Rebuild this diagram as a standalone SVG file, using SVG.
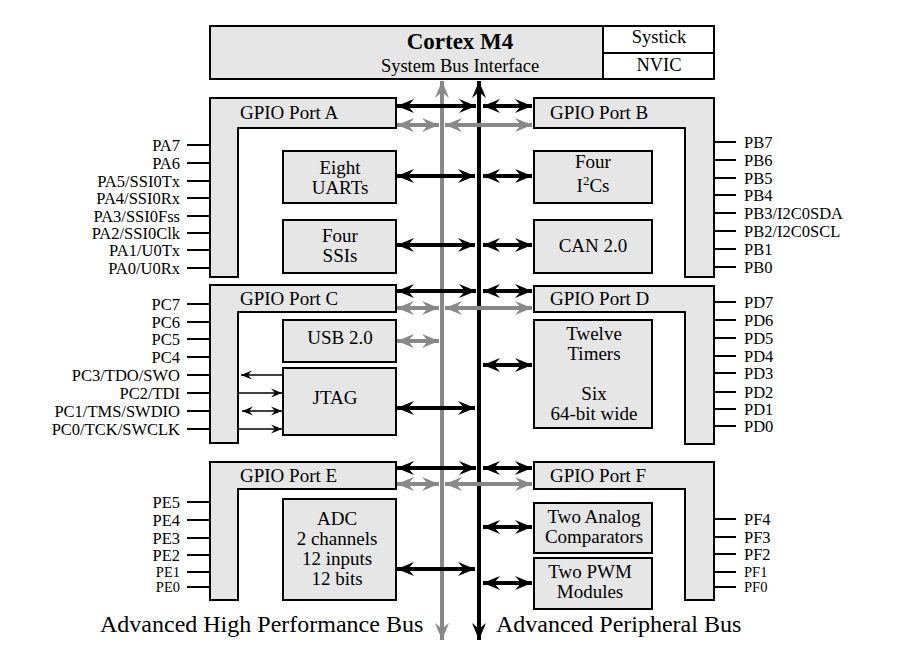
<svg xmlns="http://www.w3.org/2000/svg" width="898" height="668" viewBox="0 0 898 668" font-family="'Liberation Serif', 'DejaVu Serif', serif">
<defs>
<style>
.box{fill:#e6e6e6;stroke:#000;stroke-width:2}
.wbox{fill:#fff;stroke:#000;stroke-width:2}
.pin{stroke:#000;stroke-width:2}
text{font-family:'Liberation Serif','DejaVu Serif',serif;fill:#000}
.pl{font-size:16.5px}
.plr{font-size:16.5px;text-anchor:end}
.ps{font-size:14.5px}
.psr{font-size:14.5px;text-anchor:end}
.bl{font-size:19px;text-anchor:middle}
.gl{font-size:19px}
.bus{font-size:24px}
.ab{stroke:#000;stroke-width:4;fill:none;marker-start:url(#hb);marker-end:url(#hb)}
.ag{stroke:#888;stroke-width:4;fill:none;marker-start:url(#hg);marker-end:url(#hg)}
.sm{stroke:#000;stroke-width:1.6;fill:none}
</style>
<marker id="hb" markerUnits="userSpaceOnUse" viewBox="0 -8 18 16" refX="17" refY="0" markerWidth="18" markerHeight="16" orient="auto-start-reverse">
<path d="M17,0 L0,-7 L6,0 L0,7 z" fill="#000"/>
</marker>
<marker id="hg" markerUnits="userSpaceOnUse" viewBox="0 -8 18 16" refX="17" refY="0" markerWidth="18" markerHeight="16" orient="auto-start-reverse">
<path d="M17,0 L0,-7 L6,0 L0,7 z" fill="#888"/>
</marker>
<marker id="hs" markerUnits="userSpaceOnUse" viewBox="0 -5 12 10" refX="11" refY="0" markerWidth="12" markerHeight="10" orient="auto-start-reverse">
<path d="M11,0 L0,-4.5 L4,0 L0,4.5 z" fill="#000"/>
</marker>
</defs>

<g id="cortex">
<rect x="210" y="26" width="504" height="53" class="box"/>
<rect x="603" y="26" width="111" height="27" class="wbox"/>
<rect x="603" y="53" width="111" height="26" class="wbox"/>
<text x="460" y="49" font-size="23" font-weight="bold" text-anchor="middle">Cortex M4</text>
<text x="460" y="72" font-size="18.5" text-anchor="middle">System Bus Interface</text>
<text x="659" y="43" font-size="18.5" text-anchor="middle">Systick</text>
<text x="659" y="71" font-size="18.5" text-anchor="middle">NVIC</text>
</g>

<g id="connectors">
<line x1="442" y1="640" x2="442" y2="81" class="ag"/>
<line x1="479" y1="640" x2="479" y2="81" class="ab"/>
<line x1="397" y1="106" x2="476" y2="106" class="ab"/>
<line x1="483" y1="106" x2="532" y2="106" class="ab"/>
<line x1="397" y1="125" x2="439" y2="125" class="ag"/>
<line x1="445" y1="125" x2="532" y2="125" class="ag"/>
<line x1="397" y1="176" x2="475" y2="176" class="ab"/>
<line x1="483" y1="176" x2="532" y2="176" class="ab"/>
<line x1="397" y1="245" x2="475" y2="245" class="ab"/>
<line x1="483" y1="245" x2="532" y2="245" class="ab"/>
<line x1="397" y1="291" x2="476" y2="291" class="ab"/>
<line x1="483" y1="291" x2="532" y2="291" class="ab"/>
<line x1="397" y1="308" x2="439" y2="308" class="ag"/>
<line x1="445" y1="308" x2="532" y2="308" class="ag"/>
<line x1="397" y1="341" x2="439" y2="341" class="ag"/>
<line x1="483" y1="365" x2="532" y2="365" class="ab"/>
<line x1="397" y1="408" x2="475" y2="408" class="ab"/>
<line x1="397" y1="468" x2="476" y2="468" class="ab"/>
<line x1="483" y1="468" x2="532" y2="468" class="ab"/>
<line x1="397" y1="484" x2="439" y2="484" class="ag"/>
<line x1="445" y1="484" x2="532" y2="484" class="ag"/>
<line x1="483" y1="527" x2="532" y2="527" class="ab"/>
<line x1="397" y1="569" x2="475" y2="569" class="ab"/>
<line x1="483" y1="583" x2="532" y2="583" class="ab"/>
<line x1="283" y1="375" x2="241" y2="375" class="sm" marker-end="url(#hs)"/>
<line x1="238" y1="393" x2="282" y2="393" class="sm" marker-end="url(#hs)"/>
<line x1="242" y1="411" x2="282" y2="411" class="sm" marker-start="url(#hs)" marker-end="url(#hs)"/>
<line x1="238" y1="429" x2="282" y2="429" class="sm" marker-end="url(#hs)"/>
</g>

<g id="portA">
<polygon points="210,98 396,98 396,128 238,128 238,277 210,277" class="box"/>
<text x="240" y="119" class="gl">GPIO Port A</text>
<path class="pin" d="M187,145H210M187,163H210M187,181H210M187,198H210M187,216H210M187,233H210M187,250H210M187,268H210"/>
<text x="180" y="151" class="plr">PA7</text>
<text x="180" y="169" class="plr">PA6</text>
<text x="180" y="187" class="plr">PA5/SSI0Tx</text>
<text x="180" y="204" class="plr">PA4/SSI0Rx</text>
<text x="180" y="222" class="plr">PA3/SSI0Fss</text>
<text x="180" y="239" class="plr">PA2/SSI0Clk</text>
<text x="180" y="256" class="plr">PA1/U0Tx</text>
<text x="180" y="274" class="plr">PA0/U0Rx</text>
</g>

<g id="portB">
<polygon points="534,98 714,98 714,277 685,277 685,128 534,128" class="box"/>
<text x="550" y="119" class="gl">GPIO Port B</text>
<path class="pin" d="M714,142H736M714,160H736M714,178H736M714,195H736M714,213H736M714,231H736M714,249H736M714,267H736"/>
<text x="744" y="148" class="pl">PB7</text>
<text x="744" y="166" class="pl">PB6</text>
<text x="744" y="184" class="pl">PB5</text>
<text x="744" y="201" class="pl">PB4</text>
<text x="744" y="219" class="pl">PB3/I2C0SDA</text>
<text x="744" y="237" class="pl">PB2/I2C0SCL</text>
<text x="744" y="255" class="pl">PB1</text>
<text x="744" y="273" class="pl">PB0</text>
</g>

<g id="uarts">
<rect x="283" y="151" width="113" height="52" class="box"/>
<text x="340" y="174" class="bl">Eight</text>
<text x="340" y="194" class="bl">UARTs</text>
</g>
<g id="ssis">
<rect x="283" y="220" width="113" height="53" class="box"/>
<text x="340" y="242" class="bl">Four</text>
<text x="340" y="262" class="bl">SSIs</text>
</g>
<g id="i2cs">
<rect x="534" y="151" width="118" height="52" class="box"/>
<text x="593" y="168" class="bl">Four</text>
<text x="593" y="192" class="bl">I<tspan dy="-7" font-size="13">2</tspan><tspan dy="7">Cs</tspan></text>
</g>
<g id="can">
<rect x="534" y="220" width="118" height="53" class="box"/>
<text x="593" y="252" class="bl">CAN 2.0</text>
</g>

<g id="portC">
<polygon points="210,285 396,285 396,312 238,312 238,443 210,443" class="box"/>
<text x="240" y="305" class="gl">GPIO Port C</text>
<path class="pin" d="M187,304H210M187,322H210M187,339H210M187,357H210M187,375H210M187,393H210M187,411H210M187,429H210"/>
<text x="180" y="310" class="plr">PC7</text>
<text x="180" y="328" class="plr">PC6</text>
<text x="180" y="345" class="plr">PC5</text>
<text x="180" y="363" class="plr">PC4</text>
<text x="180" y="381" class="plr">PC3/TDO/SWO</text>
<text x="180" y="399" class="plr">PC2/TDI</text>
<text x="180" y="417" class="plr">PC1/TMS/SWDIO</text>
<text x="180" y="435" class="plr">PC0/TCK/SWCLK</text>
</g>

<g id="portD">
<polygon points="534,286 714,286 714,444 685,444 685,312 534,312" class="box"/>
<text x="550" y="305" class="gl">GPIO Port D</text>
<path class="pin" d="M714,302H736M714,320H736M714,338H736M714,356H736M714,373H736M714,392H736M714,409H736M714,426H736"/>
<text x="744" y="308" class="pl">PD7</text>
<text x="744" y="326" class="pl">PD6</text>
<text x="744" y="344" class="pl">PD5</text>
<text x="744" y="362" class="pl">PD4</text>
<text x="744" y="379" class="pl">PD3</text>
<text x="744" y="398" class="pl">PD2</text>
<text x="744" y="415" class="pl">PD1</text>
<text x="744" y="432" class="pl">PD0</text>
</g>

<g id="usb">
<rect x="283" y="320" width="113" height="42" class="box"/>
<text x="340" y="344" class="bl">USB 2.0</text>
</g>
<g id="jtag">
<rect x="283" y="368" width="113" height="67" class="box"/>
<text x="335" y="404" class="bl">JTAG</text>
</g>
<g id="timers">
<rect x="534" y="320" width="118" height="108" class="box"/>
<text x="594" y="340" class="bl">Twelve</text>
<text x="594" y="360" class="bl">Timers</text>
<text x="594" y="400" class="bl">Six</text>
<text x="594" y="420" class="bl">64-bit wide</text>
</g>

<g id="portE">
<polygon points="210,462 396,462 396,489 238,489 238,600 210,600" class="box"/>
<text x="240" y="482" class="gl">GPIO Port E</text>
<path class="pin" d="M187,502H210M187,520H210M187,538H210M187,555H210M187,572H210M187,587H210"/>
<text x="180" y="508" class="plr">PE5</text>
<text x="180" y="526" class="plr">PE4</text>
<text x="180" y="544" class="plr">PE3</text>
<text x="180" y="561" class="plr">PE2</text>
<text x="180" y="577" class="psr">PE1</text>
<text x="180" y="592" class="psr">PE0</text>
</g>

<g id="portF">
<polygon points="534,462 714,462 714,600 685,600 685,489 534,489" class="box"/>
<text x="550" y="482" class="gl">GPIO Port F</text>
<path class="pin" d="M714,519H736M714,537H736M714,554H736M714,572H736M714,587H736"/>
<text x="744" y="525" class="pl">PF4</text>
<text x="744" y="543" class="pl">PF3</text>
<text x="744" y="560" class="pl">PF2</text>
<text x="744" y="577" class="ps">PF1</text>
<text x="744" y="592" class="ps">PF0</text>
</g>

<g id="adc">
<rect x="283" y="499" width="113" height="101" class="box"/>
<text x="337" y="525" class="bl">ADC</text>
<text x="337" y="545" class="bl">2 channels</text>
<text x="337" y="565" class="bl">12 inputs</text>
<text x="337" y="585" class="bl">12 bits</text>
</g>
<g id="comparators">
<rect x="534" y="503" width="118" height="50" class="box"/>
<text x="594" y="523" class="bl">Two Analog</text>
<text x="594" y="543" class="bl">Comparators</text>
</g>
<g id="pwm">
<rect x="534" y="558" width="118" height="51" class="box"/>
<text x="590" y="578" class="bl">Two PWM</text>
<text x="590" y="598" class="bl">Modules</text>
</g>

<g id="buslabels">
<text x="100" y="632" class="bus">Advanced High Performance Bus</text>
<text x="496" y="632" class="bus">Advanced Peripheral Bus</text>
</g>
</svg>
